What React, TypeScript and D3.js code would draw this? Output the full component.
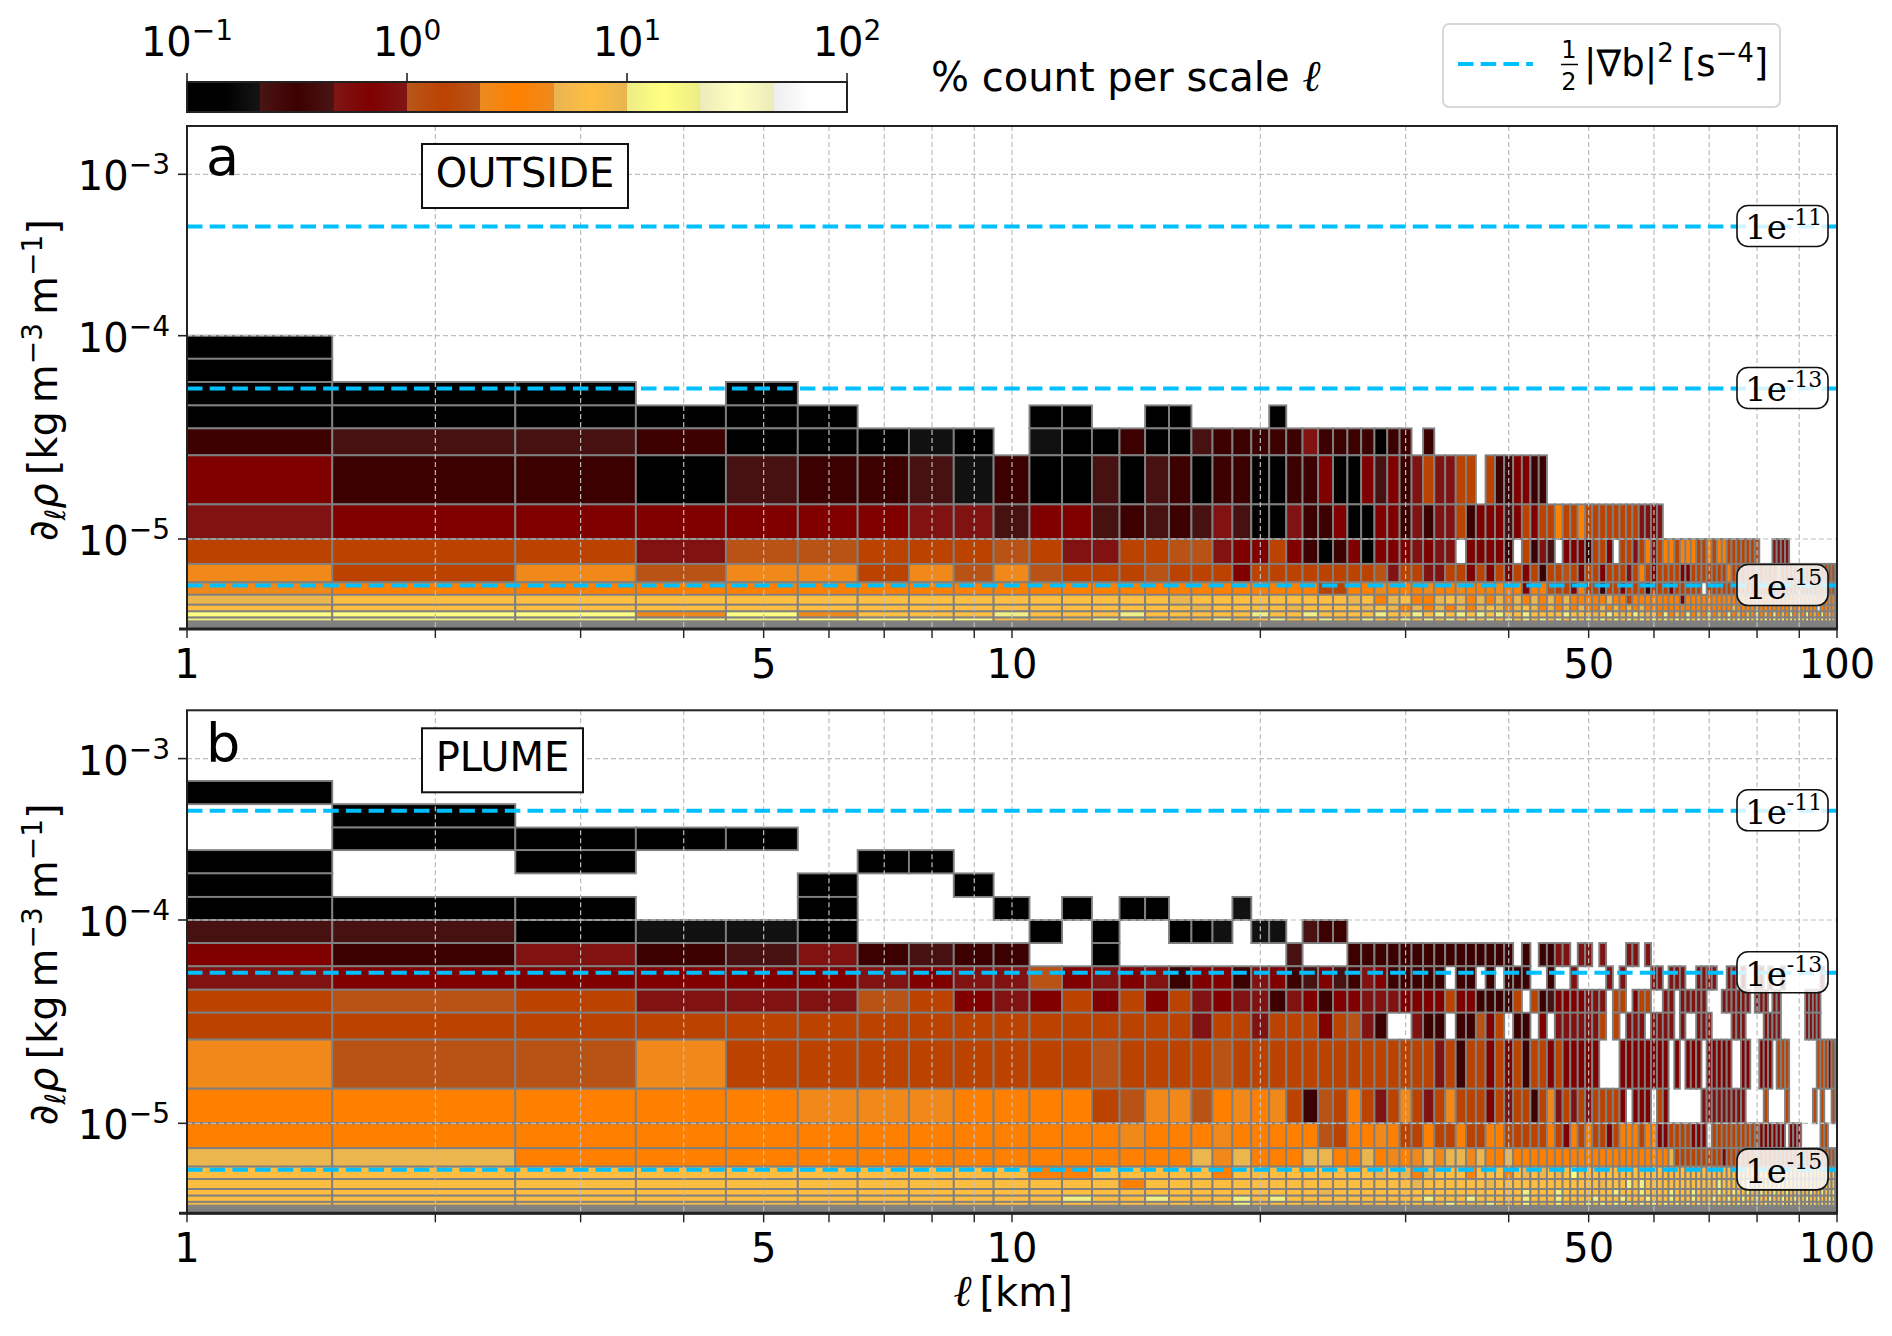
import * as d3 from 'd3';

// row edges of the histogram, kg m-3 m-1, top to bottom
const rowEdges = [
    7.27e-4, 5.22e-4, 3.74e-4, 2.71e-4, 1.945e-4, 1.39e-4, 1e-4, 7.7e-5, 5.92e-5, 4.54e-5, 3.5e-5, 2.58e-5, 1.48e-5, 1e-5,
    5.29e-6, 3.3e-6, 2.4e-6, 1.86e-6, 1.57e-6, 1.34e-6, 1.21e-6, 1.15e-6, 1.11e-6, 1.08e-6, 1.06e-6, 1.04e-6, 1.02e-6, 1e-6,
];

// one km wide columns, l = 1..100
const scales = d3.range(1, 101);

// percent for each letter in the rows below ('.' = no count)
const percentByCode: Record<string, number> = {
    '0': 0.147, '1': 0.316, '2': 0.68, '3': 1.47, '4': 3.16, '5': 6.8, '6': 14.7, '7': 31.6, '8': 68,
    a: 0.2, b: 0.43, c: 0.93, d: 2.0, e: 4.3, f: 9.3, g: 20, h: 43, i: 93,
};

const tailRow = '5555555555 5555555555 5555555555 5555555555 5555555555 5555555555 5555555555 5555555555 5555555555 5555555555';

const outsideRows = [
    '', '', '', '', '', '',
    '0',
    '0',
    '000.0',
    '000000.... 00..00.... 0',
    '1bb1000a0. a00100b111 11c1111011 .1',
    '2110b11ba1 00b0b10110 0112002b21 c3cc33.311 2211',
    'c222222ccb 22b1b1bcb0 0c11200221 c1cc31222b 2323343343 3333333cc2 c',
    '333cdd333d 3cc33ddc22 3210120222 c2cc.22221 .31cb.2221 332.33c34c 3443444334 3443333333 ...cccc',
    'e3edee3ede d333d33323 3333333dc3 3cc3323232 323133d323 32333c3432 3333223333 3334333d33 3d33e3333d 3333d33333',
    'e444444444 4444444444 4443344e44 4e44e444e4 4244d33243 3133233313 33233333.3 3333333333 d333d33333 3333333d33',
    'f555555555 55555f5555 55555f54f5 44f5f4f4f4 f4f4f4f444 44f4434444 4444244444 444e444e44 4444e44444 4e44444444',
    '5555555555 555555f555 5f5555f5f4 f4f4f4f5f4 f5f4f4f4f4 4f4f4f4f44 4444444444 4444f44444 4444444f44 4444.44444',
    '666e6e555g 555g55555g 55g5555g55 g5g5g5g5g5 5g5555g555 f5g5f5g5f5 4g4f4g4f4g 4f4g4f4f4g 4f4g4f4g4f 4g4f4g4f4g',
    'ggggg66665 55g5555g55 g55g55g55g 5g5g5g5g5g 5g5g5g5g5g 5g5g5g5g5g 5g5g5g5g5g 5g5g5g5g5g 5g5g5g5g5g 5g5g5g5g5g',
    tailRow, tailRow, tailRow, tailRow, tailRow, tailRow, tailRow,
];

const plumeRows = [
    '0',
    '.0',
    '.0000',
    '0.0...00',
    '0....0..0',
    '000..0...0 .0.00...a.',
    'bb0aa0.... 0.0..00a.a a.b11',
    '21c1bc1b11 ..0....... .b...11111 1111111111 .1.11cc.cc .c...cc.c.',
    'c22222c2cc d2c2c1221c 21b2b1c211 111.11.1.1 11..1..c.. ..c.c....c c.ccc..ccc c..cc.c..c c.c..c.... .....c....',
    '3d3cccd32c 232323c2cc 1c2122ccc2 2223221111 3.31b2222c cc.33.233. .cc.ccccc. ..cccccc.c cc.cc..... .cccc.....',
    '3333333333 333333c33c 33323dc1.. c11.11d23. 11.2.ccccc c3.3.ccc.c ccc.c..ccc ....ccc... .cccc..... .cccc.....',
    'edde333333 33d3333d33 3333333333 33c3133232 3133232222 2...222222 22.2.222.2 2222..22.. 222.333... ....333232',
    '44444eee44 443deed4e4 e31d343c3e 3c3e33323c 3313ec3c3c 33332.222. 32......cc ccccccc... .3....3... ...3.3..3.',
    '4444444444 444e444e44 444d344e43 3433433443 3333432434 3323444344 223333222. 3333333333 222222.222 .....33...',
    'ff44444444 444444fef4 44ff44f4e4 efeffef44f 4444444444 4444444444 44f3333333 3323333333 3333333333 3333333333',
    '5555555555 4455555455 5555555f5f 4f55545554 5f5f5f5655 5555555555 5555555555 5555555555 5555555555 5555555555',
    '5555555555 5554555555 5555555555 f555555f55 5555555555 5f555g5g55 5555555555 5g55555g55 5555g55555 5555555555',
    '5555555555 5555555555 555f555555 5555555555 5g555g5555 555g555g55 55g555g555 5g55g55g55 g55g55g55g 55g55g55g5',
    '5555555555 5g55g555g5 g555555555 5g555g5555 5g555g5555 g555g555g5 55g555g555 g55g55g55g 55g55g55g5 5g55g55g55',
    'fffffffff5 f5f5f5f5gf 55f5f5f55f 5f5g5f5g5f 5g5f5g5f5g 5g5g5g5g5g 5g5g5g5g5g 5g5g5g5g5g 5g5g5g5g5g 5g5g5g5g5g',
    tailRow, tailRow, tailRow, tailRow, tailRow, tailRow, tailRow,
];

// gradient level of the blue contours, with their labels
const contourLevels = [4.75e-4, 5.5e-5, 3.04e-6];
const contourLabels = ['-11', '-13', '-15'];

const yTicks = [1e-3, 1e-4, 1e-5];
const yTickLabels = ['\u22123', '\u22124', '\u22125'];
const xTicks = [1, 2, 3, 4, 5, 6, 7, 8, 9, 10, 20, 30, 40, 50, 60, 70, 80, 90, 100];
const xTickLabels = [1, 5, 10, 50, 100];

const barBounds = [0.1, 0.2154, 0.4642, 1, 2.154, 4.642, 10, 21.54, 46.42, 100];
const barColors = [
    ['#000000', '#000000', '#151515'],
    ['#4a1515', '#3d0000', '#4a1515'],
    ['#801616', '#800000', '#801616'],
    ['#b8561a', '#bc4200', '#b8561a'],
    ['#ec8a20', '#ff8000', '#ec8a20'],
    ['#e8b452', '#ffbe40', '#e8b452'],
    ['#ecec86', '#ffff80', '#ecec86'],
    ['#ecebba', '#ffffc0', '#ecebba'],
    ['#eeeeee', '#ffffff', '#ffffff'],
];
const barTicks = [0.1, 1, 10, 100];
const barTickLabels = ['\u22121', '0', '1', '2'];

const FONT = '"DejaVu Sans", sans-serif';
const GRID = '#bdbdbd';
const BLUE = '#00bfff';
const EDGE = '#808080';
const PANEL_STEP = 584.3;

const colorDomain = barBounds.slice(0, -1).flatMap((low, i) => [low, Math.sqrt(low * barBounds[i + 1]), barBounds[i + 1] * 0.9995]);
const colorScale = d3.scaleLog<string>().domain(colorDomain).range(barColors.flat()).clamp(true);

const xScale = d3.scaleLog().domain([1, 100]).range([187, 1837]);
const barScale = d3.scaleLog().domain([0.1, 100]).range([187, 847]);

// the axis is not a plain log axis, its decades have different heights
const yScaleFor = (offset: number) =>
    d3
        .scaleLog()
        .domain([1e-6, 1e-5, 1e-4, 1e-3, 2e-3])
        .range([629, 539, 335.7, 174.3, 126].map((y) => y + offset));

const cleanRows = (rows: string[]) => rows.map((row) => row.replace(/ /g, '').padEnd(100, '.'));

function Panel({ rows, offset, letter, letterDrop, title, boxWidth, showXLabel }: { rows: string[]; offset: number; letter: string; letterDrop: number; title: string; boxWidth: number; showXLabel?: boolean }) {
    const yScale = yScaleFor(offset);
    const top = 126 + offset;
    const bottom = 629 + offset;
    const grid = cleanRows(rows);

    return (
        <g>
            <g stroke={EDGE} strokeWidth={1.9}>
                {grid.map((row, r) =>
                    scales.map((scale, c) => {
                        const code = row[c];
                        if (code === '.') return null;
                        const x0 = xScale(scale === 1 ? 1 : scale - 0.5);
                        const x1 = xScale(scale === 100 ? 100 : scale + 0.5);
                        const y0 = yScale(rowEdges[r]);
                        const y1 = yScale(rowEdges[r + 1]);
                        return <rect key={`${r}-${c}`} x={x0} y={y0} width={x1 - x0} height={y1 - y0} fill={colorScale(percentByCode[code])} />;
                    })
                )}
            </g>

            <g stroke={GRID} strokeWidth={1.2} strokeDasharray="5 3">
                {xTicks.slice(1, -1).map((t) => (
                    <line key={t} x1={xScale(t)} x2={xScale(t)} y1={top} y2={bottom} />
                ))}
                {yTicks.map((t) => (
                    <line key={t} x1={187} x2={1837} y1={yScale(t)} y2={yScale(t)} />
                ))}
            </g>

            {contourLevels.map((level) => (
                <line key={level} x1={187} x2={1837} y1={yScale(level)} y2={yScale(level)} stroke={BLUE} strokeWidth={4} strokeDasharray="15.5 7.2" />
            ))}

            {contourLevels.map((level, i) => (
                <g key={level}>
                    <rect x={1737} y={yScale(level) - 21} width={91} height={41} rx={11} fill="#ffffff" fillOpacity={0.82} stroke="#111" strokeWidth={1.6} />
                    <text x={1745} y={yScale(level) + 13} fontFamily='"DejaVu Serif", serif' fontSize={34} fill="#000">
                        1e
                        <tspan fontSize={22} dy={-14}>
                            {contourLabels[i]}
                        </tspan>
                    </text>
                </g>
            ))}

            <rect x={187} y={top} width={1650} height={bottom - top} fill="none" stroke="#222" strokeWidth={2} />
            <line x1={179} x2={1837} y1={bottom} y2={bottom} stroke="#222" strokeWidth={3} />

            {xTicks.map((t) => (
                <line key={t} x1={xScale(t)} x2={xScale(t)} y1={bottom} y2={bottom + 9} stroke="#222" strokeWidth={1.4} />
            ))}
            {xTickLabels.map((t) => (
                <text key={t} x={xScale(t)} y={bottom + 49} textAnchor="middle" fontFamily={FONT} fontSize={40} fill="#000">
                    {t}
                </text>
            ))}
            {yTicks.map((t, i) => (
                <g key={t}>
                    <line x1={178} x2={187} y1={yScale(t)} y2={yScale(t)} stroke="#222" strokeWidth={1.6} />
                    <text x={170} y={yScale(t) + 16} textAnchor="end" fontFamily={FONT} fontSize={40} fill="#000">
                        10
                        <tspan fontSize={28} dy={-16}>
                            {yTickLabels[i]}
                        </tspan>
                    </text>
                </g>
            ))}

            <text transform={`translate(57,${380 + offset}) rotate(-90)`} textAnchor="middle" fontFamily={FONT} fontSize={40} fill="#000">
                {'\u2202'}
                <tspan fontSize={28} fontStyle="italic" dy={8}>
                    {'\u2113'}
                </tspan>
                <tspan fontStyle="italic" dy={-8}>
                    {'\u03c1'}
                </tspan>
                <tspan dx={8}>[kg</tspan>
                <tspan dx={8}>m</tspan>
                <tspan fontSize={28} dy={-15}>
                    {'\u22123'}
                </tspan>
                <tspan dy={15} dx={8}>
                    m
                </tspan>
                <tspan fontSize={28} dy={-15}>
                    {'\u22121'}
                </tspan>
                <tspan dy={15}>]</tspan>
            </text>

            <text x={206} y={175 + offset + letterDrop} fontFamily={FONT} fontSize={54} fill="#000">
                {letter}
            </text>
            <rect x={422} y={144 + offset} width={boxWidth} height={64} fill="#fff" stroke="#111" strokeWidth={2} />
            <text x={422 + boxWidth / 2} y={187 + offset} textAnchor="middle" fontFamily={FONT} fontSize={40} fill="#000">
                {title}
            </text>

            {showXLabel && (
                <text x={1013} y={1306} textAnchor="middle" fontFamily={FONT} fontSize={40} fill="#000">
                    <tspan fontStyle="italic" fontFamily='"DejaVu Serif", serif' fontSize={44}>
                        {'\u2113'}
                    </tspan>
                    <tspan dx={8}>[km]</tspan>
                </text>
            )}
        </g>
    );
}

function Colorbar() {
    const stops = d3.range(187, 847);
    return (
        <g>
            <g shapeRendering="crispEdges">
                {stops.map((x) => (
                    <rect key={x} x={x} y={82} width={1.2} height={30} fill={colorScale(barScale.invert(x + 0.5))} />
                ))}
            </g>
            <rect x={187} y={82} width={660} height={30} fill="none" stroke="#222" strokeWidth={2} />
            {barTicks.map((t, i) => (
                <g key={t}>
                    <line x1={barScale(t)} x2={barScale(t)} y1={73} y2={82} stroke="#222" strokeWidth={1.6} />
                    <text x={barScale(t)} y={56} textAnchor="middle" fontFamily={FONT} fontSize={40} fill="#000">
                        10
                        <tspan fontSize={28} dy={-16}>
                            {barTickLabels[i]}
                        </tspan>
                    </text>
                </g>
            ))}
            <text x={931} y={91} fontFamily={FONT} fontSize={40} fill="#000">
                % count per scale{' '}
                <tspan fontStyle="italic" fontFamily='"DejaVu Serif", serif' fontSize={44}>
                    {'\u2113'}
                </tspan>
            </text>
        </g>
    );
}

function Legend() {
    return (
        <g>
            <rect x={1443} y={24} width={337} height={83} rx={6} fill="#fff" stroke="#d8d8d8" strokeWidth={2} />
            <line x1={1458} x2={1533} y1={64} y2={64} stroke={BLUE} strokeWidth={4} strokeDasharray="15.5 7.2" />
            <text x={1569} y={58} textAnchor="middle" fontFamily={FONT} fontSize={24} fill="#000">
                1
            </text>
            <line x1={1561} x2={1578} y1={64.5} y2={64.5} stroke="#000" strokeWidth={1.5} />
            <text x={1569} y={90} textAnchor="middle" fontFamily={FONT} fontSize={24} fill="#000">
                2
            </text>
            <text x={1584} y={76} fontFamily={FONT} fontSize={37} fill="#000">
                |{'\u2207'}b|
                <tspan fontSize={26} dy={-14}>
                    2
                </tspan>
                <tspan dy={14} dx={8}>
                    [s
                </tspan>
                <tspan fontSize={26} dy={-14}>
                    {'\u22124'}
                </tspan>
                <tspan dy={14}>]</tspan>
            </text>
        </g>
    );
}

export default function App() {
    return (
        <svg width={1892} height={1336} viewBox="0 0 1892 1336" style={{ position: 'absolute', left: 0, top: 0, display: 'block', background: '#fff' }}>
            <Colorbar />
            <Legend />
            <Panel rows={outsideRows} offset={0} letter="a" letterDrop={0} title="OUTSIDE" boxWidth={206} />
            <Panel rows={plumeRows} offset={PANEL_STEP} letter="b" letterDrop={3} title="PLUME" boxWidth={161} showXLabel />
        </svg>
    );
}
